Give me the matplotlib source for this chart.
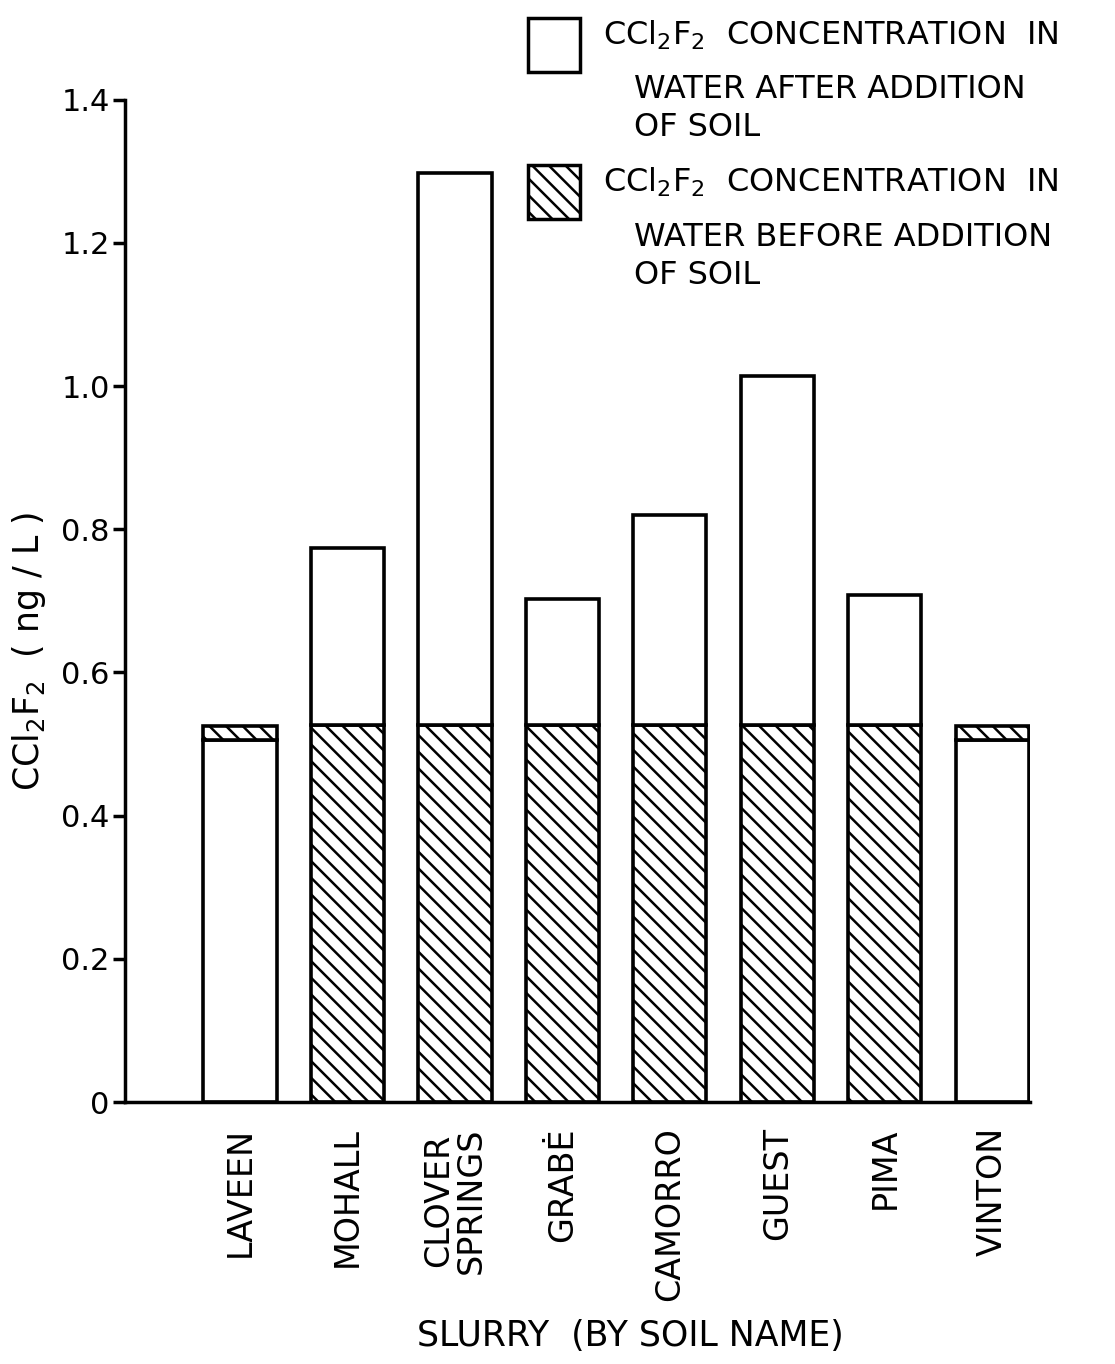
import matplotlib.pyplot as plt
from matplotlib.patches import Rectangle

soils = ["LAVEEN", "MOHALL", "CLOVER\nSPRINGS", "GRABĖ", "CAMORRO", "GUEST", "PIMA", "VINTON"]
before_soil = [0.525, 0.527, 0.527, 0.527, 0.527, 0.527, 0.527, 0.525]
after_soil = [0.505, 0.774, 1.297, 0.703, 0.820, 1.014, 0.708, 0.505]
y_ticks = [0, 0.2, 0.4, 0.6, 0.8, 1.0, 1.2, 1.4]
y_tick_labels = ["0", "0.2", "0.4", "0.6", "0.8", "1.0", "1.2", "1.4"]

W, H = 1115, 1364
plt.rcParams["font.family"] = "DejaVu Sans"
plt.rcParams["hatch.linewidth"] = 1.8

fig = plt.figure(figsize=(W / 100, H / 100), dpi=100)
ax = fig.add_axes([125 / W, 0.192, (1030 - 125) / W, 0.735])

x = list(range(len(soils)))
width = 0.68
lw = 2.6
hatch = "\\\\"

# lower / upper segments depend on which concentration is larger
for i in x:
    b, a = before_soil[i], after_soil[i]
    if a >= b:
        ax.bar(i, b, width, color="white", edgecolor="black", hatch=hatch, linewidth=lw)
        ax.bar(i, a - b, width, bottom=b, color="white", edgecolor="black", linewidth=lw)
    else:
        ax.bar(i, a, width, color="white", edgecolor="black", linewidth=lw)
        ax.bar(i, b - a, width, bottom=a, color="white", edgecolor="black", hatch=hatch, linewidth=lw)

ax.set_xlim(-1.07, 7.35)
ax.set_ylim(0, 1.4)
ax.set_yticks(y_ticks)
ax.set_yticklabels(y_tick_labels, fontsize=22)
ax.set_xticks(x)
ax.set_xticklabels(soils, rotation=90, fontsize=24, linespacing=1.0, va="top")
ax.tick_params(axis="x", length=0, pad=18)
ax.tick_params(axis="y", length=9, width=2.5, pad=2)
for side in ["top", "right"]:
    ax.spines[side].set_visible(False)
for side in ["left", "bottom"]:
    ax.spines[side].set_linewidth(2.5)

ax.set_ylabel(r"CCl$_2$F$_2$  ( ng / L )", fontsize=25)
ax.yaxis.set_label_coords(-0.085, 0.45)
fig.text(630 / W, 1 - 1336 / H, "SLURRY  (BY SOIL NAME)", ha="center", va="center", fontsize=25)

# legend drawn by hand in figure pixels
def px(xp, yp):
    return xp / W, 1 - yp / H

legend_rows = [
    (18, "", [r"CCl$_2$F$_2$  CONCENTRATION  IN", "WATER AFTER ADDITION", "OF SOIL"]),
    (165, hatch, [r"CCl$_2$F$_2$  CONCENTRATION  IN", "WATER BEFORE ADDITION", "OF SOIL"]),
]
for y0, htc, lines in legend_rows:
    x0, y1 = px(528, y0 + 54)
    w = 52 / W
    h = 54 / H
    fig.patches.append(Rectangle((x0, y1), w, h, transform=fig.transFigure, facecolor="white",
                                 edgecolor="black", hatch=htc, linewidth=2.5))
    offsets = [17, 72, 110]
    for k, line in enumerate(lines):
        xt = 603 if k == 0 else 634
        fig.text(*px(xt, y0 + offsets[k]), line, ha="left", va="center", fontsize=23)

fig.savefig("out.png", dpi=100)
